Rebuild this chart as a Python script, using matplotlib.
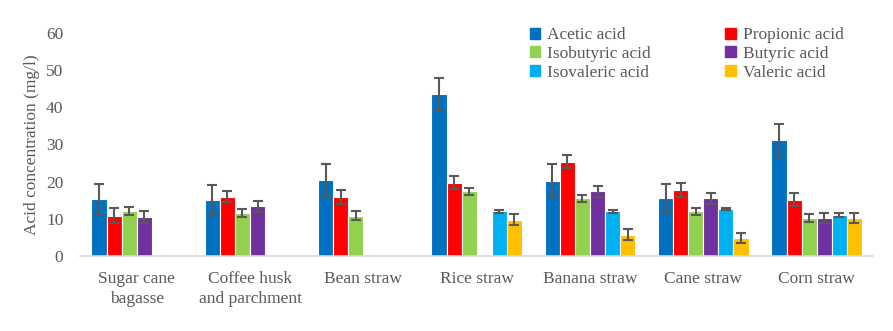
import numpy as np
import matplotlib.pyplot as plt
from matplotlib.patches import Patch

plt.rcParams['font.family'] = ['Liberation Serif', 'DejaVu Serif']

residuos = ['Sugar cane\nbagasse', 'Coffee husk\nand parchment', 'Bean straw',
            'Rice straw', 'Banana straw', 'Cane straw', 'Corn straw']

acidos = ['Acetic acid', 'Propionic acid', 'Isobutyric acid',
          'Butyric acid', 'Isovaleric acid', 'Valeric acid']
colores = ['#0070C0', '#FF0000', '#92D050', '#7030A0', '#00B0F0', '#FFC000']

nan = np.nan
acetico = [15.3, 15.1, 20.4, 43.6, 20.3, 15.5, 31.2]
propionico = [10.8, 15.9, 15.9, 19.7, 25.4, 17.8, 15.2]
isobutirico = [12.1, 11.6, 10.8, 17.4, 15.5, 12.0, 10.2]
butirico = [10.5, 13.4, nan, nan, 17.4, 15.5, 10.2]
isovalerico = [nan, nan, nan, 12.0, 12.0, 12.7, 11.1]
valerico = [nan, nan, nan, 9.8, 5.7, 4.8, 10.2]

err_acetico = [4.0, 4.0, 4.3, 4.3, 4.4, 4.0, 4.2]
err_propionico = [2.0, 1.5, 1.8, 1.8, 1.8, 1.8, 1.8]
err_isobutirico = [1.0, 1.0, 1.2, 1.0, 1.0, 1.0, 1.0]
err_butirico = [1.5, 1.5, nan, nan, 1.5, 1.5, 1.4]
err_isovalerico = [nan, nan, nan, 0.3, 0.3, 0.3, 0.5]
err_valerico = [nan, nan, nan, 1.4, 1.5, 1.4, 1.4]

series = [acetico, propionico, isobutirico, butirico, isovalerico, valerico]
errores = [err_acetico, err_propionico, err_isobutirico, err_butirico,
           err_isovalerico, err_valerico]

gris = '#595959'

fig = plt.figure(figsize=(8.93, 3.31), dpi=100)
ax = fig.add_axes([0.0896, 0.2266, 0.8884, 0.6737])

x = np.arange(len(residuos))
ancho = 0.133
for i in range(len(acidos)):
    v = np.array(series[i])
    e = np.array(errores[i])
    ok = ~np.isnan(v)
    pos = x[ok] + (i - 2.5) * ancho
    ax.bar(pos, v[ok], width=ancho, color=colores[i], edgecolor='white',
           linewidth=0.8)
    ax.errorbar(pos, v[ok], yerr=e[ok], fmt='none', ecolor=gris,
                elinewidth=1.5, capsize=3.5, capthick=1.5)

ax.set_xlim(-0.5, len(residuos) - 0.5)
ax.set_ylim(0, 60)
ax.set_yticks(range(0, 61, 10))
ax.set_xticks(x)
ax.set_xticklabels(residuos, linespacing=1.35)
ax.tick_params(length=0, labelsize=12.5, colors=gris, pad=11)
ax.tick_params(axis='y', pad=12)
ax.set_ylabel('Acid concentration (mg/l)', fontsize=12.5, color=gris)

for lado in ['top', 'right', 'left']:
    ax.spines[lado].set_visible(False)
ax.spines['bottom'].set_color('#D9D9D9')
ax.spines['bottom'].set_linewidth(1.2)

orden = [0, 2, 4, 1, 3, 5]
handles = [Patch(color=colores[k]) for k in orden]
labels = [acidos[k] for k in orden]
ax.legend(handles, labels, ncol=2, loc='upper left', bbox_to_anchor=(0.547, 1.095),
          frameon=False, fontsize=12.5, handlelength=0.6, handleheight=0.6,
          handletextpad=0.4, columnspacing=4.3, labelspacing=0.15,
          labelcolor=gris)

plt.savefig('out.png', dpi=100)
